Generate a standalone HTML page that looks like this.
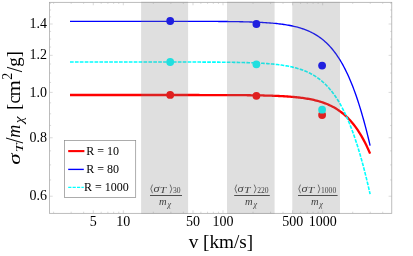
<!DOCTYPE html>
<html><head><meta charset="utf-8"><style>
html,body{margin:0;padding:0;background:#fff;overflow:hidden}
body{width:413px;height:256px;position:relative;font-family:"Liberation Serif",serif}
svg text{font-family:"Liberation Serif",serif}
</style></head><body>
<svg width="413" height="256" viewBox="0 0 413 256" style="position:absolute;left:0;top:0;will-change:transform">
<rect width="413" height="256" fill="#fff"/>
<path d="M70.00,95.00 L71.25,95.00 L72.50,95.00 L73.75,95.00 L75.00,95.00 L76.25,95.00 L77.50,95.00 L78.75,95.00 L80.00,95.00 L81.25,95.00 L82.50,95.00 L83.75,95.00 L85.00,95.00 L86.26,95.00 L87.51,95.00 L88.76,95.00 L90.01,95.00 L91.26,95.00 L92.51,95.00 L93.76,95.00 L95.01,95.00 L96.26,95.00 L97.51,95.00 L98.76,95.00 L100.01,95.00 L101.26,95.00 L102.51,95.00 L103.76,95.00 L105.01,95.00 L106.26,95.00 L107.51,95.00 L108.76,95.00 L110.01,95.00 L111.26,95.00 L112.51,95.00 L113.76,95.00 L115.01,95.00 L116.27,95.00 L117.52,95.00 L118.77,95.00 L120.02,95.00 L121.27,95.00 L122.52,95.00 L123.77,95.00 L125.02,95.00 L126.27,95.00 L127.52,95.00 L128.77,95.00 L130.02,95.00 L131.27,95.00 L132.52,95.00 L133.77,95.00 L135.02,95.00 L136.27,95.00 L137.52,95.00 L138.77,95.00 L140.02,95.00 L141.27,95.00 L142.52,95.00 L143.77,95.00 L145.03,95.00 L146.28,95.00 L147.53,95.00 L148.78,95.00 L150.03,95.00 L151.28,95.00 L152.53,95.00 L153.78,95.00 L155.03,95.00 L156.28,95.00 L157.53,95.00 L158.78,95.00 L160.03,95.00 L161.28,95.00 L162.53,95.00 L163.78,95.00 L165.03,95.01 L166.28,95.01 L167.53,95.01 L168.78,95.01 L170.03,95.01 L171.28,95.01 L172.53,95.01 L173.78,95.01 L175.04,95.01 L176.29,95.01 L177.54,95.01 L178.79,95.01 L180.04,95.01 L181.29,95.01 L182.54,95.01 L183.79,95.01 L185.04,95.01 L186.29,95.01 L187.54,95.01 L188.79,95.02 L190.04,95.02 L191.29,95.02 L192.54,95.02 L193.79,95.02 L195.04,95.02 L196.29,95.02 L197.54,95.02 L198.79,95.02 L200.04,95.03 L201.29,95.03 L202.54,95.03 L203.79,95.03 L205.05,95.03 L206.30,95.04 L207.55,95.04 L208.80,95.04 L210.05,95.04 L211.30,95.04 L212.55,95.05 L213.80,95.05 L215.05,95.05 L216.30,95.06 L217.55,95.06 L218.80,95.06 L220.05,95.07 L221.30,95.07 L222.55,95.07 L223.80,95.08 L225.05,95.08 L226.30,95.09 L227.55,95.09 L228.80,95.10 L230.05,95.11 L231.30,95.11 L232.55,95.12 L233.80,95.13 L235.06,95.13 L236.31,95.14 L237.56,95.15 L238.81,95.16 L240.06,95.17 L241.31,95.18 L242.56,95.19 L243.81,95.20 L245.06,95.21 L246.31,95.22 L247.56,95.24 L248.81,95.25 L250.06,95.27 L251.31,95.28 L252.56,95.30 L253.81,95.32 L255.06,95.33 L256.31,95.35 L257.56,95.37 L258.81,95.40 L260.06,95.42 L261.31,95.45 L262.56,95.47 L263.81,95.50 L265.07,95.53 L266.32,95.56 L267.57,95.59 L268.82,95.63 L270.07,95.67 L271.32,95.71 L272.57,95.75 L273.82,95.79 L275.07,95.84 L276.32,95.89 L277.57,95.94 L278.82,96.00 L280.07,96.06 L281.32,96.12 L282.57,96.19 L283.82,96.26 L285.07,96.33 L286.32,96.41 L287.57,96.50 L288.82,96.58 L290.07,96.68 L291.32,96.78 L292.57,96.88 L293.82,96.99 L295.08,97.11 L296.33,97.24 L297.58,97.37 L298.83,97.51 L300.08,97.66 L301.33,97.81 L302.58,97.98 L303.83,98.16 L305.08,98.34 L306.33,98.54 L307.58,98.75 L308.83,98.97 L310.08,99.20 L311.33,99.45 L312.58,99.71 L313.83,99.99 L315.08,100.28 L316.33,100.59 L317.58,100.92 L318.83,101.26 L320.08,101.63 L321.33,102.02 L322.58,102.43 L323.83,102.86 L325.09,103.32 L326.34,103.80 L327.59,104.31 L328.84,104.85 L330.09,105.42 L331.34,106.03 L332.59,106.66 L333.84,107.34 L335.09,108.05 L336.34,108.80 L337.59,109.59 L338.84,110.43 L340.09,111.31 L341.34,112.24 L342.59,113.22 L343.84,114.25 L345.09,115.34 L346.34,116.49 L347.59,117.69 L348.84,118.97 L350.09,120.31 L351.34,121.72 L352.59,123.20 L353.84,124.76 L355.10,126.40 L356.35,128.12 L357.60,129.93 L358.85,131.83 L360.10,133.82 L361.35,135.91 L362.60,138.11 L363.85,140.40 L365.10,142.81 L366.35,145.32 L367.60,147.96 L368.85,150.71 L370.10,153.59" fill="none" stroke="#ff0000" stroke-width="2.3"/>
<path d="M70.00,21.30 L71.25,21.30 L72.50,21.30 L73.75,21.30 L75.00,21.30 L76.25,21.30 L77.50,21.30 L78.75,21.30 L80.00,21.30 L81.25,21.30 L82.50,21.30 L83.75,21.30 L85.00,21.30 L86.26,21.30 L87.51,21.30 L88.76,21.30 L90.01,21.30 L91.26,21.30 L92.51,21.30 L93.76,21.30 L95.01,21.30 L96.26,21.30 L97.51,21.30 L98.76,21.30 L100.01,21.30 L101.26,21.30 L102.51,21.30 L103.76,21.30 L105.01,21.30 L106.26,21.30 L107.51,21.30 L108.76,21.30 L110.01,21.30 L111.26,21.30 L112.51,21.30 L113.76,21.30 L115.01,21.30 L116.27,21.30 L117.52,21.30 L118.77,21.30 L120.02,21.30 L121.27,21.30 L122.52,21.30 L123.77,21.30 L125.02,21.30 L126.27,21.30 L127.52,21.30 L128.77,21.30 L130.02,21.30 L131.27,21.30 L132.52,21.30 L133.77,21.30 L135.02,21.30 L136.27,21.30 L137.52,21.30 L138.77,21.30 L140.02,21.30 L141.27,21.30 L142.52,21.30 L143.77,21.30 L145.03,21.31 L146.28,21.31 L147.53,21.31 L148.78,21.31 L150.03,21.31 L151.28,21.31 L152.53,21.31 L153.78,21.31 L155.03,21.31 L156.28,21.31 L157.53,21.31 L158.78,21.31 L160.03,21.31 L161.28,21.31 L162.53,21.31 L163.78,21.31 L165.03,21.31 L166.28,21.31 L167.53,21.31 L168.78,21.32 L170.03,21.32 L171.28,21.32 L172.53,21.32 L173.78,21.32 L175.04,21.32 L176.29,21.32 L177.54,21.32 L178.79,21.32 L180.04,21.33 L181.29,21.33 L182.54,21.33 L183.79,21.33 L185.04,21.33 L186.29,21.34 L187.54,21.34 L188.79,21.34 L190.04,21.34 L191.29,21.34 L192.54,21.35 L193.79,21.35 L195.04,21.35 L196.29,21.36 L197.54,21.36 L198.79,21.36 L200.04,21.37 L201.29,21.37 L202.54,21.37 L203.79,21.38 L205.05,21.38 L206.30,21.39 L207.55,21.39 L208.80,21.40 L210.05,21.41 L211.30,21.41 L212.55,21.42 L213.80,21.43 L215.05,21.43 L216.30,21.44 L217.55,21.45 L218.80,21.46 L220.05,21.47 L221.30,21.48 L222.55,21.49 L223.80,21.50 L225.05,21.51 L226.30,21.52 L227.55,21.54 L228.80,21.55 L230.05,21.57 L231.30,21.58 L232.55,21.60 L233.80,21.62 L235.06,21.63 L236.31,21.65 L237.56,21.68 L238.81,21.70 L240.06,21.72 L241.31,21.75 L242.56,21.77 L243.81,21.80 L245.06,21.83 L246.31,21.86 L247.56,21.90 L248.81,21.93 L250.06,21.97 L251.31,22.01 L252.56,22.05 L253.81,22.09 L255.06,22.14 L256.31,22.19 L257.56,22.24 L258.81,22.30 L260.06,22.36 L261.31,22.42 L262.56,22.49 L263.81,22.56 L265.07,22.63 L266.32,22.71 L267.57,22.80 L268.82,22.89 L270.07,22.98 L271.32,23.08 L272.57,23.18 L273.82,23.30 L275.07,23.41 L276.32,23.54 L277.57,23.67 L278.82,23.81 L280.07,23.96 L281.32,24.12 L282.57,24.28 L283.82,24.46 L285.07,24.65 L286.32,24.84 L287.57,25.05 L288.82,25.27 L290.07,25.51 L291.32,25.75 L292.57,26.02 L293.82,26.29 L295.08,26.59 L296.33,26.90 L297.58,27.22 L298.83,27.57 L300.08,27.94 L301.33,28.33 L302.58,28.74 L303.83,29.17 L305.08,29.63 L306.33,30.11 L307.58,30.62 L308.83,31.17 L310.08,31.74 L311.33,32.34 L312.58,32.98 L313.83,33.65 L315.08,34.36 L316.33,35.11 L317.58,35.91 L318.83,36.74 L320.08,37.63 L321.33,38.56 L322.58,39.54 L323.83,40.57 L325.09,41.66 L326.34,42.81 L327.59,44.02 L328.84,45.30 L330.09,46.64 L331.34,48.05 L332.59,49.53 L333.84,51.09 L335.09,52.74 L336.34,54.46 L337.59,56.27 L338.84,58.17 L340.09,60.17 L341.34,62.26 L342.59,64.45 L343.84,66.75 L345.09,69.16 L346.34,71.68 L347.59,74.32 L348.84,77.07 L350.09,79.95 L351.34,82.96 L352.59,86.10 L353.84,89.37 L355.10,92.78 L356.35,96.33 L357.60,100.03 L358.85,103.87 L360.10,107.87 L361.35,112.02 L362.60,116.32 L363.85,120.78 L365.10,125.41 L366.35,130.19 L367.60,135.15 L368.85,140.26 L370.10,145.55" fill="none" stroke="#0000ff" stroke-width="1.35"/>
<path d="M70.00,62.00 L71.25,62.00 L72.50,62.00 L73.75,62.00 L75.00,62.00 L76.25,62.00 L77.50,62.00 L78.75,62.00 L80.00,62.00 L81.25,62.00 L82.50,62.00 L83.75,62.00 L85.00,62.00 L86.26,62.00 L87.51,62.00 L88.76,62.00 L90.01,62.00 L91.26,62.00 L92.51,62.00 L93.76,62.00 L95.01,62.00 L96.26,62.00 L97.51,62.00 L98.76,62.00 L100.01,62.00 L101.26,62.00 L102.51,62.00 L103.76,62.00 L105.01,62.00 L106.26,62.00 L107.51,62.00 L108.76,62.00 L110.01,62.00 L111.26,62.00 L112.51,62.00 L113.76,62.00 L115.01,62.00 L116.27,62.00 L117.52,62.00 L118.77,62.00 L120.02,62.00 L121.27,62.00 L122.52,62.00 L123.77,62.00 L125.02,62.00 L126.27,62.00 L127.52,62.00 L128.77,62.00 L130.02,62.00 L131.27,62.00 L132.52,62.00 L133.77,62.00 L135.02,62.00 L136.27,62.00 L137.52,62.00 L138.77,62.00 L140.02,62.00 L141.27,62.00 L142.52,62.01 L143.77,62.01 L145.03,62.01 L146.28,62.01 L147.53,62.01 L148.78,62.01 L150.03,62.01 L151.28,62.01 L152.53,62.01 L153.78,62.01 L155.03,62.01 L156.28,62.01 L157.53,62.01 L158.78,62.01 L160.03,62.01 L161.28,62.01 L162.53,62.01 L163.78,62.01 L165.03,62.01 L166.28,62.02 L167.53,62.02 L168.78,62.02 L170.03,62.02 L171.28,62.02 L172.53,62.02 L173.78,62.02 L175.04,62.02 L176.29,62.02 L177.54,62.03 L178.79,62.03 L180.04,62.03 L181.29,62.03 L182.54,62.03 L183.79,62.03 L185.04,62.04 L186.29,62.04 L187.54,62.04 L188.79,62.04 L190.04,62.05 L191.29,62.05 L192.54,62.05 L193.79,62.05 L195.04,62.06 L196.29,62.06 L197.54,62.06 L198.79,62.07 L200.04,62.07 L201.29,62.08 L202.54,62.08 L203.79,62.09 L205.05,62.09 L206.30,62.10 L207.55,62.10 L208.80,62.11 L210.05,62.11 L211.30,62.12 L212.55,62.13 L213.80,62.14 L215.05,62.14 L216.30,62.15 L217.55,62.16 L218.80,62.17 L220.05,62.18 L221.30,62.19 L222.55,62.20 L223.80,62.22 L225.05,62.23 L226.30,62.24 L227.55,62.26 L228.80,62.27 L230.05,62.29 L231.30,62.31 L232.55,62.32 L233.80,62.34 L235.06,62.36 L236.31,62.39 L237.56,62.41 L238.81,62.43 L240.06,62.46 L241.31,62.49 L242.56,62.51 L243.81,62.54 L245.06,62.58 L246.31,62.61 L247.56,62.65 L248.81,62.69 L250.06,62.73 L251.31,62.77 L252.56,62.82 L253.81,62.86 L255.06,62.91 L256.31,62.97 L257.56,63.03 L258.81,63.09 L260.06,63.15 L261.31,63.22 L262.56,63.29 L263.81,63.37 L265.07,63.45 L266.32,63.54 L267.57,63.63 L268.82,63.72 L270.07,63.83 L271.32,63.93 L272.57,64.05 L273.82,64.17 L275.07,64.30 L276.32,64.43 L277.57,64.58 L278.82,64.73 L280.07,64.89 L281.32,65.06 L282.57,65.24 L283.82,65.43 L285.07,65.63 L286.32,65.85 L287.57,66.08 L288.82,66.31 L290.07,66.57 L291.32,66.84 L292.57,67.12 L293.82,67.42 L295.08,67.74 L296.33,68.08 L297.58,68.43 L298.83,68.81 L300.08,69.20 L301.33,69.63 L302.58,70.07 L303.83,70.54 L305.08,71.04 L306.33,71.56 L307.58,72.12 L308.83,72.70 L310.08,73.32 L311.33,73.97 L312.58,74.66 L313.83,75.39 L315.08,76.16 L316.33,76.97 L317.58,77.83 L318.83,78.73 L320.08,79.69 L321.33,80.69 L322.58,81.75 L323.83,82.87 L325.09,84.04 L326.34,85.28 L327.59,86.58 L328.84,87.96 L330.09,89.40 L331.34,90.92 L332.59,92.51 L333.84,94.19 L335.09,95.95 L336.34,97.81 L337.59,99.75 L338.84,101.79 L340.09,103.92 L341.34,106.16 L342.59,108.51 L343.84,110.97 L345.09,113.54 L346.34,116.23 L347.59,119.04 L348.84,121.97 L350.09,125.04 L351.34,128.23 L352.59,131.57 L353.84,135.04 L355.10,138.66 L356.35,142.42 L357.60,146.33 L358.85,150.39 L360.10,154.61 L361.35,158.98 L362.60,163.52 L363.85,168.22 L365.10,173.08 L366.35,178.10 L367.60,183.29 L368.85,188.65 L370.10,194.18" fill="none" stroke="#00ffff" stroke-width="1.6" stroke-dasharray="3.7 1.2"/>
<circle cx="170.2" cy="94.9" r="3.9" fill="#ff0000"/>
<circle cx="256.4" cy="95.8" r="3.9" fill="#ff0000"/>
<circle cx="322.1" cy="115.0" r="3.9" fill="#ff0000"/>
<circle cx="170.2" cy="21.0" r="3.9" fill="#0000ff"/>
<circle cx="256.4" cy="24.0" r="3.9" fill="#0000ff"/>
<circle cx="322.1" cy="65.6" r="3.9" fill="#0000ff"/>
<circle cx="170.2" cy="62.0" r="3.9" fill="#00ffff"/>
<circle cx="256.4" cy="64.3" r="3.9" fill="#00ffff"/>
<circle cx="322.1" cy="109.7" r="3.9" fill="#00ffff"/>
<line x1="150.0" y1="195.5" x2="182.0" y2="195.5" stroke="#2b2b2b" stroke-width="0.9"/>
<polyline points="152.5,184.6 150.8,188.9 152.5,193.2" fill="none" stroke="#2b2b2b" stroke-width="0.7"/>
<text transform="translate(153.4,191.8) scale(1.12,1)" font-size="11" font-style="italic" fill="#2b2b2b">σ</text>
<text transform="translate(159.7,193.1) scale(1.5,1)" font-size="7.8" font-style="italic" fill="#2b2b2b">T</text>
<polyline points="170.1,184.6 171.8,188.9 170.1,193.2" fill="none" stroke="#2b2b2b" stroke-width="0.7"/>
<text x="173.0" y="193.4" font-size="7.6" fill="#2b2b2b">30</text>
<text x="159.1" y="205.45" font-size="10.5" font-style="italic" fill="#2b2b2b">m</text>
<text transform="translate(167.4,207.0) scale(1.1,1)" font-size="7.4" font-style="italic" fill="#2b2b2b">χ</text>
<line x1="234.2" y1="195.5" x2="269.8" y2="195.5" stroke="#2b2b2b" stroke-width="0.9"/>
<polyline points="236.7,184.6 235.0,188.9 236.7,193.2" fill="none" stroke="#2b2b2b" stroke-width="0.7"/>
<text transform="translate(237.6,191.8) scale(1.12,1)" font-size="11" font-style="italic" fill="#2b2b2b">σ</text>
<text transform="translate(243.9,193.1) scale(1.5,1)" font-size="7.8" font-style="italic" fill="#2b2b2b">T</text>
<polyline points="254.2,184.6 256.0,188.9 254.2,193.2" fill="none" stroke="#2b2b2b" stroke-width="0.7"/>
<text x="257.2" y="193.4" font-size="7.6" fill="#2b2b2b">220</text>
<text x="245.1" y="205.45" font-size="10.5" font-style="italic" fill="#2b2b2b">m</text>
<text transform="translate(253.4,207.0) scale(1.1,1)" font-size="7.4" font-style="italic" fill="#2b2b2b">χ</text>
<line x1="298.0" y1="195.5" x2="337.6" y2="195.5" stroke="#2b2b2b" stroke-width="0.9"/>
<polyline points="300.5,184.6 298.8,188.9 300.5,193.2" fill="none" stroke="#2b2b2b" stroke-width="0.7"/>
<text transform="translate(301.4,191.8) scale(1.12,1)" font-size="11" font-style="italic" fill="#2b2b2b">σ</text>
<text transform="translate(307.7,193.1) scale(1.5,1)" font-size="7.8" font-style="italic" fill="#2b2b2b">T</text>
<polyline points="318.1,184.6 319.8,188.9 318.1,193.2" fill="none" stroke="#2b2b2b" stroke-width="0.7"/>
<text x="321.0" y="193.4" font-size="7.6" fill="#2b2b2b">1000</text>
<text x="310.9" y="205.45" font-size="10.5" font-style="italic" fill="#2b2b2b">m</text>
<text transform="translate(319.2,207.0) scale(1.1,1)" font-size="7.4" font-style="italic" fill="#2b2b2b">χ</text>
<rect x="49.5" y="2.3" width="342.3" height="211.0" fill="none" stroke="#a0a0a0" stroke-width="0.7"/>
<path d="M53.61,213.30 v-1.60 M53.61,2.30 v1.60 M71.17,213.30 v-1.60 M71.17,2.30 v1.60 M83.63,213.30 v-1.60 M83.63,2.30 v1.60 M93.29,213.30 v-3.00 M93.29,2.30 v3.00 M101.18,213.30 v-1.60 M101.18,2.30 v1.60 M107.86,213.30 v-1.60 M107.86,2.30 v1.60 M113.64,213.30 v-1.60 M113.64,2.30 v1.60 M118.74,213.30 v-1.60 M118.74,2.30 v1.60 M123.30,213.30 v-3.00 M123.30,2.30 v3.00 M153.31,213.30 v-1.60 M153.31,2.30 v1.60 M170.87,213.30 v-1.60 M170.87,2.30 v1.60 M183.33,213.30 v-1.60 M183.33,2.30 v1.60 M192.99,213.30 v-3.00 M192.99,2.30 v3.00 M200.88,213.30 v-1.60 M200.88,2.30 v1.60 M207.56,213.30 v-1.60 M207.56,2.30 v1.60 M213.34,213.30 v-1.60 M213.34,2.30 v1.60 M218.44,213.30 v-1.60 M218.44,2.30 v1.60 M223.00,213.30 v-3.00 M223.00,2.30 v3.00 M253.01,213.30 v-1.60 M253.01,2.30 v1.60 M270.57,213.30 v-1.60 M270.57,2.30 v1.60 M283.03,213.30 v-1.60 M283.03,2.30 v1.60 M292.69,213.30 v-3.00 M292.69,2.30 v3.00 M300.58,213.30 v-1.60 M300.58,2.30 v1.60 M307.26,213.30 v-1.60 M307.26,2.30 v1.60 M313.04,213.30 v-1.60 M313.04,2.30 v1.60 M318.14,213.30 v-1.60 M318.14,2.30 v1.60 M322.70,213.30 v-3.00 M322.70,2.30 v3.00 M352.71,213.30 v-1.60 M352.71,2.30 v1.60 M370.27,213.30 v-1.60 M370.27,2.30 v1.60 M382.73,213.30 v-1.60 M382.73,2.30 v1.60 M49.50,196.23 h3.20 M391.80,196.23 h-3.20 M49.50,179.96 h1.60 M391.80,179.96 h-1.60 M49.50,164.89 h1.60 M391.80,164.89 h-1.60 M49.50,150.87 h1.60 M391.80,150.87 h-1.60 M49.50,137.75 h3.20 M391.80,137.75 h-3.20 M49.50,125.43 h1.60 M391.80,125.43 h-1.60 M49.50,113.81 h1.60 M391.80,113.81 h-1.60 M49.50,102.83 h1.60 M391.80,102.83 h-1.60 M49.50,92.40 h3.20 M391.80,92.40 h-3.20 M49.50,82.48 h1.60 M391.80,82.48 h-1.60 M49.50,73.03 h1.60 M391.80,73.03 h-1.60 M49.50,63.99 h1.60 M391.80,63.99 h-1.60 M49.50,55.34 h3.20 M391.80,55.34 h-3.20 M49.50,47.05 h1.60 M391.80,47.05 h-1.60 M49.50,39.07 h1.60 M391.80,39.07 h-1.60 M49.50,31.40 h1.60 M391.80,31.40 h-1.60 M49.50,24.01 h3.20 M391.80,24.01 h-3.20 M49.50,16.88 h1.60 M391.80,16.88 h-1.60 M49.50,9.99 h1.60 M391.80,9.99 h-1.60 M49.50,3.32 h1.60 M391.80,3.32 h-1.60" fill="none" stroke="#b4b4b4" stroke-width="0.5"/>
<rect x="141.1" y="1.7" width="47.0" height="212.1" fill="#808080" fill-opacity="0.25"/>
<rect x="227.0" y="1.7" width="47.6" height="212.1" fill="#808080" fill-opacity="0.25"/>
<rect x="292.3" y="1.7" width="47.7" height="212.1" fill="#808080" fill-opacity="0.25"/>
<text x="93.3" y="225.6" font-size="14" text-anchor="middle" fill="#000">5</text>
<text x="123.3" y="225.6" font-size="14" text-anchor="middle" fill="#000">10</text>
<text x="193.0" y="225.6" font-size="14" text-anchor="middle" fill="#000">50</text>
<text x="223.0" y="225.6" font-size="14" text-anchor="middle" fill="#000">100</text>
<text x="292.7" y="225.6" font-size="14" text-anchor="middle" fill="#000">500</text>
<text x="322.7" y="225.6" font-size="14" text-anchor="middle" fill="#000">1000</text>
<text x="46.9" y="28.1" font-size="14" text-anchor="end" fill="#000">1.4</text>
<text x="46.9" y="59.4" font-size="14" text-anchor="end" fill="#000">1.2</text>
<text x="46.9" y="96.5" font-size="14" text-anchor="end" fill="#000">1.0</text>
<text x="46.9" y="141.9" font-size="14" text-anchor="end" fill="#000">0.8</text>
<text x="46.9" y="200.3" font-size="14" text-anchor="end" fill="#000">0.6</text>
<text transform="translate(188.7,248.0) scale(1.055,1)" font-size="18.2" fill="#000">v [km/s]</text>
<g transform="translate(19.8,164.2) rotate(-90)"><text transform="translate(-0.49,0.00) scale(1.400,1.000)" font-size="16.5" font-style="italic" fill="#000">σ</text><text transform="translate(11.88,3.10) scale(1.400,1.000)" font-size="11.2" font-style="italic" fill="#000">T</text><text transform="translate(20.70,3.20) scale(1.200,1.350)" font-size="18.0" fill="#000">/</text><text transform="translate(26.35,0.00) scale(1.000,1.000)" font-size="18.0" font-style="italic" fill="#000">m</text><text transform="translate(40.93,3.10) scale(1.200,1.050)" font-size="12.8" font-style="italic" fill="#000">χ</text><text transform="translate(54.57,0.30) scale(1.000,1.050)" font-size="18.0" fill="#000">[</text><text transform="translate(60.62,0.00) scale(1.000,1.000)" font-size="18.0" fill="#000">c</text><text transform="translate(67.76,0.00) scale(1.170,1.000)" font-size="18.0" fill="#000">m</text><text transform="translate(84.38,-7.70) scale(1.000,1.000)" font-size="14.0" fill="#000">2</text><text transform="translate(92.00,2.20) scale(1.100,1.280)" font-size="18.0" fill="#000">/</text><text transform="translate(97.49,0.00) scale(1.050,1.000)" font-size="18.0" fill="#000">g</text><text transform="translate(106.95,0.30) scale(1.000,1.050)" font-size="18.0" fill="#000">]</text></g>
<rect x="64.4" y="140.4" width="71.3" height="57.2" fill="#fff" stroke="#8a8a8a" stroke-width="0.7"/>
<line x1="68.2" y1="151.1" x2="84.4" y2="151.1" stroke="#ff0000" stroke-width="2.1"/>
<line x1="68.2" y1="169.4" x2="83.8" y2="169.4" stroke="#0000ff" stroke-width="1.35"/>
<line x1="68.2" y1="187.3" x2="83.8" y2="187.3" stroke="#00ffff" stroke-width="1.35" stroke-dasharray="3.2 1.2"/>
<text x="86.3" y="154.6" font-size="12" fill="#000">R = 10</text>
<text x="86.3" y="172.7" font-size="12" fill="#000">R = 80</text>
<text x="83.9" y="190.7" font-size="12" fill="#000">R = 1000</text>
</svg>
</body></html>
